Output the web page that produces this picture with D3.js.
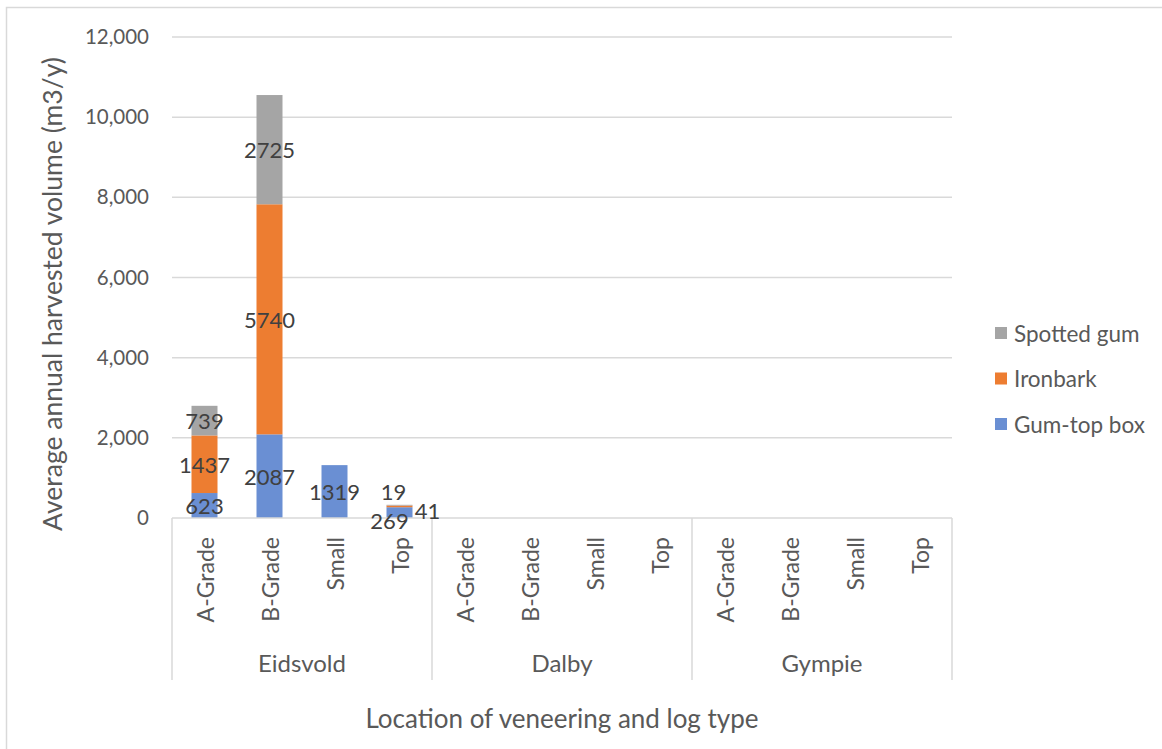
<!DOCTYPE html>
<html>
<head>
<meta charset="utf-8">
<script src="https://cdn.jsdelivr.net/npm/d3@7"></script>
<style>
  html, body { margin: 0; padding: 0; background: #fff; }
  svg { display: block; font-family: Lato, "Open Sans", sans-serif; }
</style>
</head>
<body>
<svg id="chart" width="1162" height="749"></svg>
<script>
// Veneer log volumes by location and log type (m3/y)
const locations = ["Eidsvold", "Dalby", "Gympie"];
const logTypes = ["A-Grade", "B-Grade", "Small", "Top"];
const seriesNames = ["Gum-top box", "Ironbark", "Spotted gum"];
// Values in location order, four log types each (null = no harvest recorded)
const gumTopBox  = [623, 2087, 1319, 269,  null, null, null, null,  null, null, null, null];
const ironbark   = [1437, 5740, null, 41,  null, null, null, null,  null, null, null, null];
const spottedGum = [739, 2725, null, 19,   null, null, null, null,  null, null, null, null];
const yTicks = [0, 2000, 4000, 6000, 8000, 10000, 12000];
const seriesColors = ["#6a8fd3", "#ed7d31", "#a5a5a5"];

const svg = d3.select("#chart");
const W = 1162, H = 749;
const plot = { left: 172, right: 952, top: 37, bottom: 518 };
const axisBoxBottom = 680;
const axisGrey = "#595959";

// outer chart border
svg.append("rect")
  .attr("x", 6.5).attr("y", 7.5).attr("width", W + 20).attr("height", H + 20)
  .attr("fill", "none").attr("stroke", "#d9d9d9").attr("stroke-width", 1.5);

const keys = [];
locations.forEach(l => logTypes.forEach(t => keys.push(l + "|" + t)));

const rows = keys.map((k, i) => ({
  key: k,
  loc: k.split("|")[0],
  type: k.split("|")[1],
  "Gum-top box": gumTopBox[i] || 0,
  "Ironbark": ironbark[i] || 0,
  "Spotted gum": spottedGum[i] || 0,
  raw: [gumTopBox[i], ironbark[i], spottedGum[i]]
}));

const x = d3.scaleBand().domain(keys).range([plot.left, plot.right])
  .paddingInner(0.6).paddingOuter(0.3);
const xLoc = d3.scaleBand().domain(locations).range([plot.left, plot.right]);
const y = d3.scaleLinear().domain([0, 12000]).range([plot.bottom, plot.top]);

// horizontal gridlines
svg.append("g").selectAll("line").data(yTicks.filter(v => v > 0)).join("line")
  .attr("x1", plot.left).attr("x2", plot.right)
  .attr("y1", d => y(d)).attr("y2", d => y(d))
  .attr("stroke", "#d9d9d9").attr("stroke-width", 1.5);

// y axis tick labels
const yAxis = d3.axisLeft(y).tickValues(yTicks).tickFormat(d3.format(",")).tickSize(0).tickPadding(23);
const gy = svg.append("g").attr("transform", `translate(${plot.left},0)`).call(yAxis);
gy.select(".domain").remove();
gy.selectAll("text").attr("fill", axisGrey).attr("font-size", 20.5).attr("font-family", "Lato, sans-serif");

// stacked bars
const stack = d3.stack().keys(seriesNames);
const stacked = stack(rows);

const gBars = svg.append("g");
stacked.forEach((layer, si) => {
  gBars.append("g").attr("fill", seriesColors[si])
    .selectAll("rect").data(layer.filter(d => d[1] - d[0] > 0)).join("rect")
    .attr("x", d => x(d.data.key))
    .attr("width", x.bandwidth())
    .attr("y", d => y(d[1]))
    .attr("height", d => y(d[0]) - y(d[1]));
});

// category axis frame
const gFrame = svg.append("g").attr("stroke", "#d9d9d9").attr("stroke-width", 1.5);
gFrame.append("line").attr("x1", plot.left).attr("x2", plot.right)
  .attr("y1", plot.bottom).attr("y2", plot.bottom);
const dividers = locations.map(l => xLoc(l)).concat([plot.right]);
gFrame.selectAll(".div").data(dividers).join("line")
  .attr("x1", d => d).attr("x2", d => d)
  .attr("y1", plot.bottom).attr("y2", axisBoxBottom);

// data labels (small top segments are nudged apart)
const nudge = {
  "Eidsvold|Top|0": [-10, 8],
  "Eidsvold|Top|1": [28, 4],
  "Eidsvold|Top|2": [-6, -14]
};
const gLab = svg.append("g").attr("fill", "#404040").attr("font-size", 22)
  .attr("text-anchor", "middle").attr("dominant-baseline", "central");
stacked.forEach((layer, si) => {
  layer.forEach(d => {
    const v = d.data.raw[si];
    if (v == null || v === 0) return;
    const n = nudge[d.data.key + "|" + si] || [0, 0];
    gLab.append("text")
      .attr("x", x(d.data.key) + x.bandwidth() / 2 + n[0])
      .attr("y", (y(d[0]) + y(d[1])) / 2 + n[1])
      .text(v);
  });
});

// log type labels (rotated)
svg.append("g").selectAll("text").data(keys).join("text")
  .attr("transform", d => `translate(${x(d) + x.bandwidth() / 2},537) rotate(-90)`)
  .attr("text-anchor", "end").attr("dominant-baseline", "central")
  .attr("fill", axisGrey).attr("font-size", 23)
  .text(d => d.split("|")[1]);

// location labels
svg.append("g").selectAll("text").data(locations).join("text")
  .attr("x", d => xLoc(d) + xLoc.bandwidth() / 2).attr("y", 662)
  .attr("text-anchor", "middle").attr("dominant-baseline", "central")
  .attr("fill", axisGrey).attr("font-size", 24)
  .text(d => d);

// axis titles
svg.append("text")
  .attr("transform", "translate(52,294) rotate(-90)")
  .attr("text-anchor", "middle").attr("dominant-baseline", "central")
  .attr("fill", axisGrey).attr("font-size", 26.5)
  .text("Average annual harvested volume (m3/y)");
svg.append("text")
  .attr("x", 562).attr("y", 718)
  .attr("text-anchor", "middle").attr("dominant-baseline", "central")
  .attr("fill", axisGrey).attr("font-size", 26)
  .text("Location of veneering and log type");

// legend (top-most series first)
const legendOrder = [2, 1, 0];
const gLeg = svg.append("g");
legendOrder.forEach((si, i) => {
  const cy = 333 + i * 45.5;
  gLeg.append("rect").attr("x", 995).attr("y", cy - 6).attr("width", 12).attr("height", 12)
    .attr("fill", seriesColors[si]);
  gLeg.append("text").attr("x", 1014).attr("y", cy)
    .attr("dominant-baseline", "central").attr("fill", axisGrey).attr("font-size", 22.5)
    .text(seriesNames[si]);
});
</script>
</body>
</html>
